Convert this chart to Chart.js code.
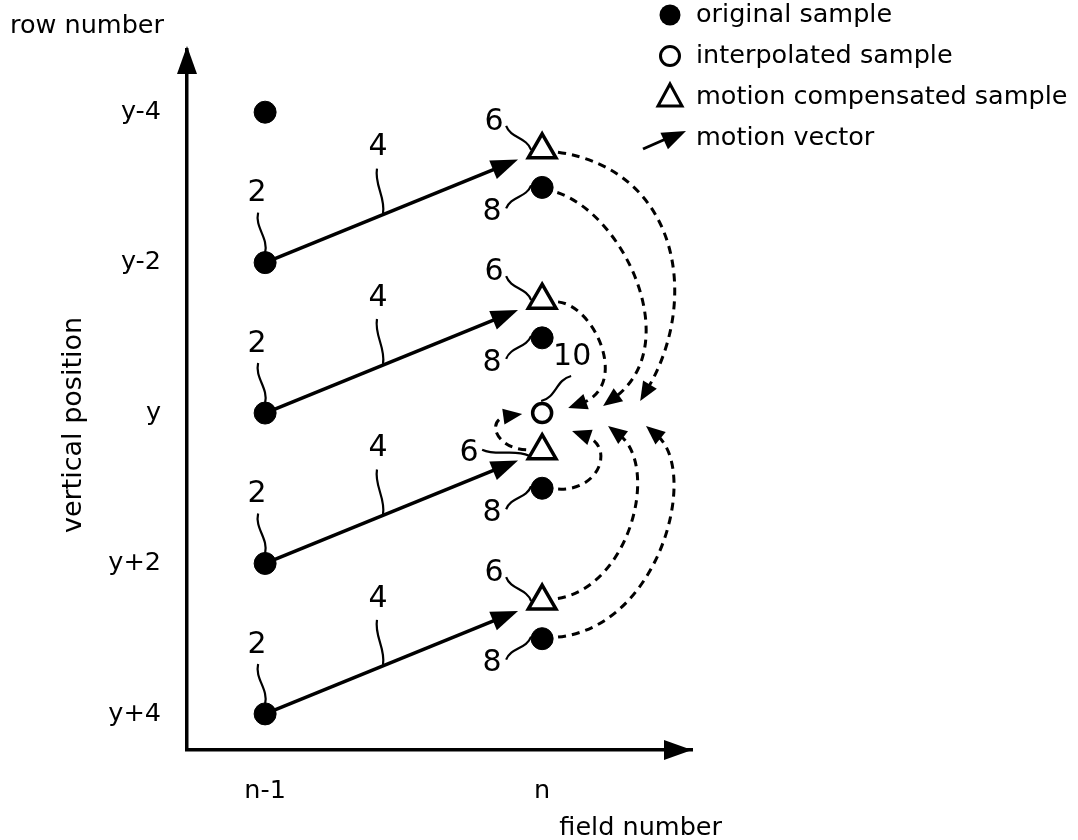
<!DOCTYPE html>
<html><head><meta charset="utf-8">
<script src="https://cdn.jsdelivr.net/npm/chart.js@4.4.1/dist/chart.umd.min.js"></script>
<style>html,body{margin:0;padding:0;background:#fff;}#wrap{width:1078px;height:840px;position:relative;}</style>
</head><body><div id="wrap"><canvas id="c"></canvas></div>
<script>
// ---- data ----
const fieldValues = [0, 1];
const fieldLabels = ['n-1', 'n'];
const rowValues = [-4, -2, 0, 2, 4];
const rowLabels = ['y-4', 'y-2', 'y', 'y+2', 'y+4'];
const originalPrevRows = [-4, -2, 0, 2, 4];      // original samples, field n-1
const originalCurrRows = [-3, -1, 1, 3];         // original samples, field n
const compensatedRows = [-3.5, -1.5, 0.5, 2.5];  // motion compensated samples, field n
const interpolatedRows = [0];                    // interpolated sample, field n
const vectorFromRows = [-2, 0, 2, 4];            // motion vectors start (field n-1)
const vectorToRows = [-3.5, -1.5, 0.5, 2.5];     // motion vectors end (field n)
const legendLabels = ['original sample', 'interpolated sample', 'motion compensated sample', 'motion vector'];
const refLabels = ['2', '4', '6', '8', '10'];
// dashed contributions into the interpolated sample: source (field,row), control points and end (field,row)
const flowSources = [
  {field: 1, row: -3.5, c1: [1.498, -3.227], c2: [1.570, -1.493], end: [1.354, -0.16]},
  {field: 1, row: -3,   c1: [1.300, -2.627], c2: [1.516, -0.893], end: [1.220, -0.093]},
  {field: 1, row: -1.5, c1: [1.191, -1.427], c2: [1.318, -0.360], end: [1.094, -0.067]},
  {field: 1, row: 0.5,  c1: [0.830, 0.467],  c2: [0.794, 0.080],  end: [0.928, 0.013]},
  {field: 1, row: 1,    c1: [1.209, 1.040],  c2: [1.264, 0.440],  end: [1.108, 0.240]},
  {field: 1, row: 2.5,  c1: [1.318, 2.307],  c2: [1.426, 0.707],  end: [1.238, 0.173]},
  {field: 1, row: 3,    c1: [1.426, 2.840],  c2: [1.570, 0.773],  end: [1.375, 0.173]}
];

const FONT = 'DejaVu Sans';
const TXT = 25.5;

function squiggle(ctx, x0, y0, x1, y1, amp) {
  const dx = x1 - x0, dy = y1 - y0, len = Math.hypot(dx, dy) || 1;
  const nx = -dy / len, ny = dx / len;
  ctx.beginPath();
  ctx.moveTo(x0, y0);
  ctx.bezierCurveTo(x0 + dx * 0.35 + nx * amp, y0 + dy * 0.35 + ny * amp,
                    x0 + dx * 0.65 - nx * amp, y0 + dy * 0.65 - ny * amp, x1, y1);
  ctx.stroke();
}
function arrowHead(ctx, x, y, ang, len, half) {
  ctx.beginPath();
  ctx.moveTo(x, y);
  ctx.lineTo(x - len * Math.cos(ang) + half * Math.sin(ang), y - len * Math.sin(ang) - half * Math.cos(ang));
  ctx.lineTo(x - len * Math.cos(ang) - half * Math.sin(ang), y - len * Math.sin(ang) + half * Math.cos(ang));
  ctx.closePath();
  ctx.fill();
}
function label(ctx, t, x, y, size) {
  ctx.font = size + 'px "' + FONT + '"';
  ctx.textAlign = 'center';
  ctx.textBaseline = 'middle';
  ctx.fillText(t, x, y);
}

const diagram = {
  id: 'diagram',
  beforeDatasetsDraw(chart) {
    const {ctx, chartArea: a, scales: {x, y}} = chart;
    ctx.save();
    ctx.fillStyle = '#000';
    ctx.strokeStyle = '#000';
    // axis arrowheads
    arrowHead(ctx, a.left, a.top - 4, -Math.PI / 2, 28, 10);
    arrowHead(ctx, a.right, a.bottom, 0, 28, 10);
    // motion vectors
    vectorFromRows.forEach((r0, i) => {
      const r1 = vectorToRows[i];
      const x0 = x.getPixelForValue(fieldValues[0]), y0 = y.getPixelForValue(r0);
      const x1 = x.getPixelForValue(fieldValues[1]), y1 = y.getPixelForValue(r1);
      const ang = Math.atan2(y1 - y0, x1 - x0);
      const L = Math.hypot(x1 - x0, y1 - y0) - 26;
      const tx = x0 + L * Math.cos(ang), ty = y0 + L * Math.sin(ang);
      ctx.lineWidth = 3.5;
      ctx.beginPath();
      ctx.moveTo(x0, y0);
      ctx.lineTo(tx - 12 * Math.cos(ang), ty - 12 * Math.sin(ang));
      ctx.stroke();
      arrowHead(ctx, tx, ty, ang, 27, 10);
      // reference "4"
      const px = x0 + 0.466 * (tx - x0), py = y0 + 0.466 * (ty - y0);
      ctx.lineWidth = 2.2;
      squiggle(ctx, px - 6, py - 46, px, py - 1, 5);
      label(ctx, refLabels[1], px - 5, py - 67, 30);
    });
    // reference "2" on n-1 samples that start a vector
    ctx.lineWidth = 2.2;
    vectorFromRows.forEach(r0 => {
      const px = x.getPixelForValue(fieldValues[0]), py = y.getPixelForValue(r0);
      squiggle(ctx, px - 7, py - 50, px, py - 10, 6);
      label(ctx, refLabels[0], px - 8, py - 69, 30);
    });
    // reference "6" on compensated samples
    compensatedRows.forEach((r, i) => {
      const px = x.getPixelForValue(fieldValues[1]), py = y.getPixelForValue(r);
      if (i === 2) {
        squiggle(ctx, px - 60, py - 1, px - 13, py + 5, 5);
        label(ctx, refLabels[2], px - 73, py + 3, 30);
      } else {
        squiggle(ctx, px - 36, py - 24, px - 11, py, 6);
        label(ctx, refLabels[2], px - 48, py - 28, 30);
      }
    });
    // reference "8" on original samples of field n
    originalCurrRows.forEach(r => {
      const px = x.getPixelForValue(fieldValues[1]), py = y.getPixelForValue(r);
      squiggle(ctx, px - 36, py + 21, px - 11, py - 2, -6);
      label(ctx, refLabels[3], px - 50, py + 25, 30);
    });
    // reference "10" on interpolated sample
    interpolatedRows.forEach(r => {
      const px = x.getPixelForValue(fieldValues[1]), py = y.getPixelForValue(r);
      squiggle(ctx, px + 29, py - 37, px - 1, py - 12, 7);
      label(ctx, refLabels[4], px + 30, py - 56, 30);
    });
    // dashed contribution curves
    ctx.lineWidth = 3;
    flowSources.forEach(f => {
      let sx = x.getPixelForValue(f.field), sy = y.getPixelForValue(f.row);
      const c1x = x.getPixelForValue(f.c1[0]), c1y = y.getPixelForValue(f.c1[1]);
      const c2x = x.getPixelForValue(f.c2[0]), c2y = y.getPixelForValue(f.c2[1]);
      const ex = x.getPixelForValue(f.end[0]), ey = y.getPixelForValue(f.end[1]);
      const d0 = Math.atan2(c1y - sy, c1x - sx);
      sx += 16 * Math.cos(d0); sy += 16 * Math.sin(d0);
      const ang = Math.atan2(ey - c2y, ex - c2x);
      const bx = ex - 14 * Math.cos(ang), by = ey - 14 * Math.sin(ang);
      ctx.setLineDash([8, 6]);
      ctx.beginPath();
      ctx.moveTo(sx, sy);
      ctx.bezierCurveTo(c1x, c1y, c2x, c2y, bx, by);
      ctx.stroke();
      ctx.setLineDash([]);
      arrowHead(ctx, ex, ey, ang, 19, 8);
    });
    ctx.restore();
  },
  afterDraw(chart) {
    const {ctx} = chart;
    ctx.save();
    ctx.fillStyle = '#000';
    ctx.strokeStyle = '#000';
    // axis titles
    ctx.font = TXT + 'px "' + FONT + '"';
    ctx.textBaseline = 'middle';
    ctx.textAlign = 'left';
    ctx.fillText('row number', 10, 26);
    ctx.textAlign = 'right';
    ctx.fillText('field number', 722, 828);
    ctx.save();
    ctx.translate(74, 425);
    ctx.rotate(-Math.PI / 2);
    ctx.textAlign = 'center';
    ctx.font = '27px "' + FONT + '"';
    ctx.fillText('vertical position', 0, 0);
    ctx.restore();
    // legend
    ctx.font = TXT + 'px "' + FONT + '"';
    const lx = 670, tx = 696, ys = [15, 56, 97, 138];
    ctx.beginPath(); ctx.arc(lx, ys[0], 10.5, 0, Math.PI * 2); ctx.fill();
    ctx.lineWidth = 3;
    ctx.beginPath(); ctx.arc(lx, ys[1], 9.5, 0, Math.PI * 2); ctx.stroke();
    ctx.beginPath();
    ctx.moveTo(lx, ys[2] - 13); ctx.lineTo(lx + 12, ys[2] + 9); ctx.lineTo(lx - 12, ys[2] + 9); ctx.closePath(); ctx.stroke();
    ctx.lineWidth = 3;
    ctx.beginPath(); ctx.moveTo(643, ys[3] + 11); ctx.lineTo(668, ys[3]); ctx.stroke();
    arrowHead(ctx, 686, ys[3] - 7, Math.atan2(-11, 24), 24, 9);
    ctx.textAlign = 'left';
    legendLabels.forEach((t, i) => ctx.fillText(t, tx, ys[i]));
    ctx.restore();
  }
};

const tickFont = {family: FONT, size: TXT};
new Chart(document.getElementById('c'), {
  type: 'scatter',
  data: {
    datasets: [
      {label: legendLabels[0], data: originalPrevRows.map(r => ({x: fieldValues[0], y: r})),
       pointStyle: 'circle', pointRadius: 11, backgroundColor: '#000', borderColor: '#000', borderWidth: 1},
      {label: legendLabels[0], data: originalCurrRows.map(r => ({x: fieldValues[1], y: r})),
       pointStyle: 'circle', pointRadius: 11, backgroundColor: '#000', borderColor: '#000', borderWidth: 1},
      {label: legendLabels[2], data: compensatedRows.map(r => ({x: fieldValues[1], y: r})),
       pointStyle: 'triangle', pointRadius: 16, backgroundColor: '#fff', borderColor: '#000', borderWidth: 3.5},
      {label: legendLabels[1], data: interpolatedRows.map(r => ({x: fieldValues[1], y: r})),
       pointStyle: 'circle', pointRadius: 9.5, backgroundColor: '#fff', borderColor: '#000', borderWidth: 3.5}
    ]
  },
  options: {
    responsive: true, maintainAspectRatio: false, animation: false, events: [],
    layout: {padding: {left: 0, top: 50, right: 1078 - 692, bottom: 0}},
    plugins: {legend: {display: false}, tooltip: {enabled: false}},
    scales: {
      x: {
        type: 'linear', min: -0.282, max: 1.541,
        afterFit: s => { s.height = 90; },
        afterBuildTicks: s => { s.ticks = fieldValues.map(v => ({value: v})); },
        ticks: {callback: (v, i) => fieldLabels[i], padding: 26, font: tickFont, color: '#000', maxRotation: 0, autoSkip: false},
        grid: {display: false, drawTicks: false},
        border: {display: true, color: '#000', width: 3.5}
      },
      y: {
        type: 'linear', reverse: true, min: -4.827, max: 4.48,
        afterFit: s => { s.width = 187; },
        afterBuildTicks: s => { s.ticks = rowValues.map(v => ({value: v})); },
        ticks: {callback: (v, i) => rowLabels[i], padding: 26, font: tickFont, color: '#000', autoSkip: false},
        grid: {display: false, drawTicks: false},
        border: {display: true, color: '#000', width: 3.5}
      }
    }
  },
  plugins: [diagram]
});
</script></body></html>
